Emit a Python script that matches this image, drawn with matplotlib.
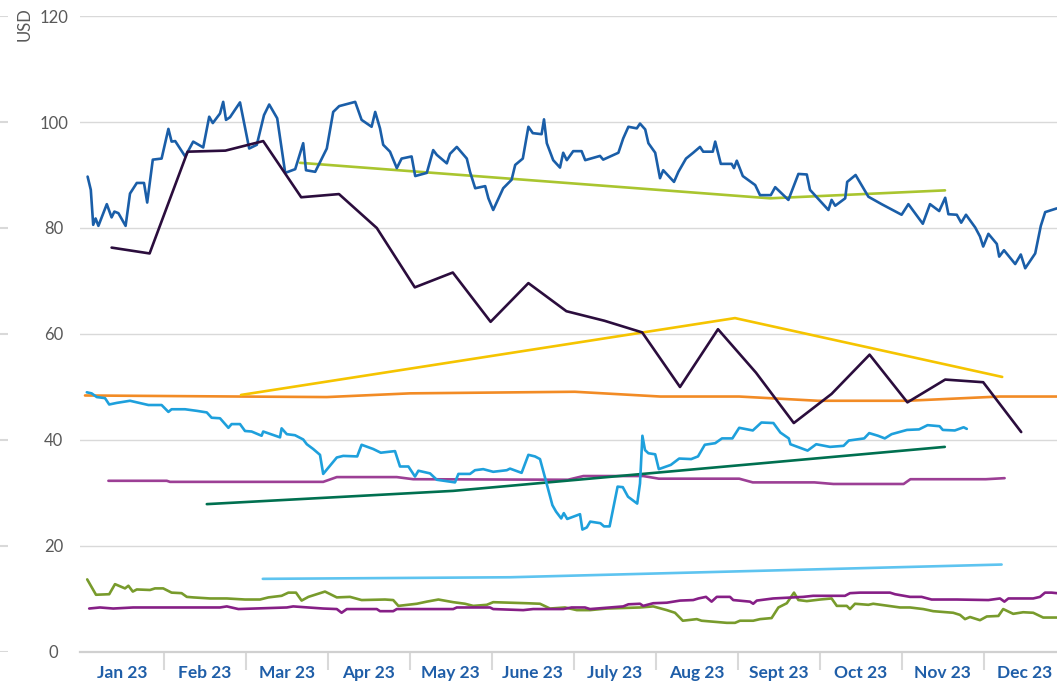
import matplotlib.pyplot as plt
import numpy as np

plt.rcParams['font.family'] = ['Lato', 'DejaVu Sans']

# x = trading day index (about 20.5 days per month), y = price in USD
months = ['Jan 23', 'Feb 23', 'Mar 23', 'Apr 23', 'May 23', 'June 23',
          'July 23', 'Aug 23', 'Sept 23', 'Oct 23', 'Nov 23', 'Dec 23']
month_len = 20.5
first_day = 0.9

dark_blue = [
    (2.4, 89.7), (3.2, 87.2), (3.8, 80.6), (4.4, 81.8), (5.1, 80.4), (7.2, 84.5), (8.4, 82.0),
    (9.1, 83.1), (10.1, 82.8), (11.9, 80.4), (13.0, 86.5), (14.7, 88.5), (16.5, 88.5), (17.3, 84.8),
    (18.7, 92.9), (20.9, 93.1), (22.6, 98.7), (23.4, 96.3), (24.3, 96.4), (26.8, 93.5), (28.8, 96.3),
    (31.3, 95.2), (32.8, 101.0), (33.7, 99.8), (35.5, 101.6), (36.3, 103.8), (37.0, 100.4),
    (38.0, 100.9), (40.5, 103.7), (42.8, 95.0), (44.7, 95.7), (46.5, 101.3), (47.8, 103.3),
    (49.8, 100.7), (51.8, 90.4), (54.3, 91.1), (56.3, 96.0), (57.0, 90.9), (59.3, 90.6), (62.2, 95.0),
    (63.8, 101.9), (65.3, 103.0), (69.3, 103.8), (70.9, 100.4), (73.4, 99.1), (74.3, 101.9),
    (75.5, 98.8), (76.3, 95.7), (78.0, 94.4), (79.7, 91.3), (80.9, 93.1), (83.4, 93.5), (84.3, 89.8),
    (87.2, 90.4), (88.8, 94.7), (89.7, 93.8), (92.2, 92.2), (93.0, 94.0), (94.7, 95.3), (97.2, 93.1),
    (98.0, 90.6), (99.3, 87.5), (101.8, 87.9), (102.6, 85.6), (103.8, 83.4), (106.3, 87.5),
    (108.4, 89.1), (109.3, 91.9), (111.2, 93.1), (112.6, 99.1), (113.7, 97.9), (115.9, 97.7),
    (116.5, 100.5), (117.2, 96.0), (118.8, 92.8), (120.5, 91.4), (121.3, 94.2), (122.2, 92.8),
    (123.8, 94.5), (125.9, 94.5), (126.8, 92.8), (130.5, 93.6), (131.3, 92.9), (135.1, 94.2),
    (136.3, 96.9), (137.6, 99.1), (139.7, 98.8), (140.5, 99.7), (141.8, 98.6), (142.6, 96.0),
    (144.3, 94.2), (145.5, 89.4), (146.3, 90.9), (149.0, 88.7), (150.1, 90.6), (152.0, 93.1),
    (153.8, 94.2), (155.5, 95.3), (156.3, 94.4), (158.7, 94.4), (159.3, 96.3), (160.7, 92.1),
    (163.4, 92.1), (164.0, 91.3), (164.7, 92.7), (166.2, 89.8), (169.3, 88.1), (170.5, 86.2),
    (173.2, 86.2), (174.3, 87.7), (177.6, 85.3), (180.1, 90.2), (182.2, 90.1), (183.0, 87.2),
    (187.6, 83.4), (188.4, 85.3), (189.3, 84.2), (191.8, 85.6), (192.3, 88.7), (194.4, 90.0),
    (197.6, 85.9), (200.9, 84.5), (205.9, 82.5), (207.6, 84.5), (211.2, 80.8), (213.0, 84.5),
    (215.3, 83.2), (216.8, 85.7), (217.6, 82.6), (219.7, 82.5), (220.8, 81.0), (222.0, 82.5),
    (224.3, 80.1), (225.5, 78.4), (226.3, 76.5), (227.6, 78.9), (229.7, 77.0), (230.3, 74.6),
    (231.5, 75.8), (234.3, 73.2), (235.7, 75.0), (236.8, 72.4), (239.3, 75.2), (240.7, 80.4),
    (241.8, 83.0), (244.7, 83.7)]

light_blue = [
    (2.2, 49.0), (3.4, 48.8), (4.7, 48.1), (6.75, 47.9), (7.8, 46.7), (9.7, 47.0), (13.0, 47.4),
    (17.6, 46.6), (20.9, 46.6), (22.6, 45.3), (23.4, 45.8), (26.75, 45.8), (29.7, 45.5), (32.2, 45.2),
    (33.4, 44.2), (35.5, 44.1), (37.6, 42.3), (38.4, 43.0), (40.5, 43.0), (41.75, 41.7), (43.4, 41.6),
    (45.9, 40.8), (46.3, 41.6), (50.5, 40.5), (50.9, 42.2), (52.2, 41.1), (54.25, 40.9), (56.3, 40.1),
    (57.2, 39.2), (58.8, 38.3), (60.5, 37.2), (61.3, 33.6), (64.7, 36.7), (66.3, 37.0), (69.8, 36.9),
    (70.9, 39.1), (73.8, 38.3), (75.7, 37.6), (78.0, 37.8), (79.25, 37.9), (80.5, 35.0), (82.6, 35.0),
    (84.25, 33.1), (85.1, 34.2), (88.0, 33.7), (89.7, 32.5), (94.25, 32.0), (95.1, 33.6), (98.0, 33.6),
    (99.25, 34.3), (101.3, 34.5), (103.8, 34.0), (107.2, 34.3), (108.0, 34.6), (110.9, 33.8),
    (112.6, 37.2), (114.25, 36.9), (115.5, 36.4), (116.9, 32.5), (118.6, 27.7), (119.5, 26.5),
    (120.8, 25.2), (121.45, 26.2), (122.3, 25.1), (125.5, 26.0), (126.1, 23.1), (127.2, 23.5),
    (128.05, 24.6), (130.6, 24.3), (131.5, 23.7), (132.9, 23.7), (134.9, 31.2), (136.2, 31.1),
    (137.5, 29.3), (139.8, 28.0), (140.5, 31.8), (141.1, 40.8), (141.75, 38.1), (142.6, 37.5),
    (144.3, 37.3), (145.2, 34.5), (148.2, 35.3), (150.3, 36.5), (153.3, 36.4), (155.0, 36.9),
    (156.7, 39.1), (159.3, 39.4), (161.0, 40.3), (163.6, 40.3), (165.3, 42.3), (168.7, 41.8),
    (170.85, 43.3), (173.85, 43.2), (175.6, 41.4), (177.7, 40.3), (178.1, 39.2), (182.4, 38.0),
    (184.55, 39.2), (188.0, 38.7), (191.4, 38.9), (192.7, 39.9), (196.55, 40.3), (197.8, 41.3),
    (200.0, 40.8), (201.7, 40.3), (203.4, 41.1), (207.25, 41.9), (210.25, 42.0), (212.4, 42.8),
    (215.4, 42.6), (216.2, 41.9), (219.2, 41.8), (221.4, 42.4), (222.2, 42.1)]

olive = [
    (2.3, 13.7), (4.5, 10.8), (7.8, 10.9), (9.25, 12.8), (11.75, 12.0), (12.6, 12.5), (13.7, 11.4),
    (14.7, 11.8), (18.0, 11.7), (19.25, 12.0), (21.3, 12.0), (23.4, 11.2), (25.9, 11.1), (27.2, 10.4),
    (28.8, 10.3), (33.0, 10.1), (37.2, 10.1), (41.75, 9.9), (45.5, 9.9), (47.6, 10.3), (50.9, 10.6),
    (52.6, 11.2), (54.5, 11.2), (55.9, 9.7), (57.6, 10.4), (61.75, 11.4), (64.7, 10.3), (68.0, 10.4),
    (70.9, 9.8), (76.75, 9.9), (78.8, 9.8), (80.1, 8.7), (84.7, 9.1), (87.2, 9.5), (90.1, 9.9),
    (93.8, 9.4), (96.75, 9.1), (98.8, 8.7), (102.2, 8.9), (103.8, 9.4), (112.2, 9.2), (115.5, 9.1),
    (118.0, 8.2), (121.75, 8.4), (124.7, 7.9), (128.0, 7.9), (132.2, 8.2), (140.5, 8.4),
    (143.8, 8.6), (147.2, 7.9), (149.25, 7.4), (151.2, 5.9), (154.7, 6.2), (155.9, 5.9),
    (162.2, 5.5), (164.25, 5.5), (165.5, 5.9), (168.8, 5.9), (170.5, 6.2), (173.4, 6.4),
    (175.1, 8.4), (177.2, 9.2), (179.0, 11.2), (180.1, 9.8), (182.2, 9.6), (185.5, 9.9),
    (188.4, 10.1), (189.7, 8.7), (192.2, 8.7), (193.0, 8.1), (194.25, 9.1), (197.6, 8.9),
    (198.8, 9.1), (205.5, 8.4), (208.0, 8.4), (211.3, 8.1), (212.6, 7.9), (213.8, 7.7),
    (218.8, 7.4), (220.5, 7.0), (221.75, 6.2), (223.0, 6.6), (225.5, 6.0), (227.2, 6.7),
    (230.1, 6.8), (231.3, 8.1), (233.8, 7.2), (236.3, 7.5), (238.8, 7.4), (241.3, 6.5), (244.7, 6.5)]

purple = [
    (2.8, 8.2), (5.5, 8.4), (8.8, 8.2), (13.8, 8.4), (35.5, 8.4), (37.2, 8.6), (40.1, 8.1),
    (52.2, 8.4), (53.8, 8.6), (61.3, 8.2), (64.7, 8.1), (65.9, 7.4), (67.2, 8.1), (74.7, 8.1),
    (75.5, 7.7), (78.8, 7.7), (79.7, 8.1), (93.8, 8.1), (94.7, 8.4), (98.0, 8.4), (103.0, 8.4),
    (103.8, 8.1), (111.3, 7.9), (113.8, 8.1), (121.3, 8.1), (123.4, 8.4), (126.75, 8.4),
    (128.0, 8.1), (136.3, 8.6), (137.6, 9.0), (140.5, 9.1), (141.3, 8.7), (143.8, 9.2),
    (147.2, 9.3), (150.5, 9.7), (153.8, 9.8), (155.1, 10.1), (157.0, 10.4), (158.4, 9.5),
    (159.7, 10.4), (163.0, 10.4), (163.8, 9.8), (168.0, 9.5), (168.8, 9.1), (169.7, 9.7),
    (173.8, 10.1), (181.3, 10.4), (183.8, 10.6), (191.75, 10.6), (193.0, 11.1), (195.5, 11.2),
    (203.0, 11.2), (204.25, 10.9), (208.0, 10.4), (210.9, 10.4), (213.4, 9.9), (219.7, 9.9),
    (227.6, 9.8), (230.5, 10.1), (231.6, 9.5), (232.6, 10.1), (238.8, 10.1), (240.5, 10.4),
    (241.75, 11.2), (243.4, 11.2), (244.7, 11.1)]

eggplant = [
    (8.4, 76.3), (17.9, 75.2), (27.4, 94.4), (36.85, 94.6), (46.3, 96.4), (55.8, 85.8),
    (65.25, 86.4), (74.7, 80.0), (84.2, 68.8), (93.7, 71.6), (103.15, 62.3), (112.6, 69.6),
    (122.1, 64.3), (131.6, 62.5), (141.05, 60.3), (150.5, 50.0), (160.0, 60.9), (169.5, 52.7),
    (178.95, 43.2), (188.4, 48.7), (197.9, 56.1), (207.35, 47.1), (216.8, 51.4), (226.3, 50.9),
    (235.8, 41.5)]

lime = [(55.5, 92.3), (173.0, 85.6), (216.75, 87.1)]
gold = [(40.75, 48.5), (164.25, 63.0), (231.05, 51.9)]
orange = [(1.75, 48.4), (40.5, 48.2), (62.2, 48.1), (83.0, 48.8), (124.2, 49.1), (145.6, 48.2),
          (165.3, 48.2), (185.0, 47.4), (207.25, 47.4), (230.4, 48.2), (244.75, 48.2)]
magenta = [(7.6, 32.3), (22.2, 32.3), (23.0, 32.1), (61.3, 32.1), (64.7, 33.0), (79.7, 33.0),
           (83.8, 32.6), (122.5, 32.5), (126.35, 33.2), (141.3, 33.2), (145.2, 32.7), (165.3, 32.7),
           (168.7, 32.0), (184.1, 32.0), (188.85, 31.7), (206.4, 31.7), (208.1, 32.6),
           (226.95, 32.6), (231.65, 32.8)]
dark_green = [(32.2, 27.9), (93.8, 30.4), (216.7, 38.7)]
sky = [(46.2, 13.8), (108.0, 14.1), (230.9, 16.5)]

series = [
    (magenta, '#9c3f95'),
    (orange, '#f28b25'),
    (dark_green, '#007050'),
    (sky, '#5ec4f0'),
    (gold, '#f5c400'),
    (lime, '#a9c52f'),
    (olive, '#789b2c'),
    (purple, '#861f86'),
    (light_blue, '#1ea0dc'),
    (dark_blue, '#1a5ea8'),
    (eggplant, '#2b0d3d'),
]

fig = plt.figure(figsize=(10.57, 6.81), dpi=100)
ax = fig.add_axes([80 / 1057, 0.0426, 977 / 1057, 0.9339])

for data, color in series:
    x, y = zip(*data)
    ax.plot(x, y, color=color, lw=1.9, solid_joinstyle='round', solid_capstyle='round')

ax.set_ylim(0, 120)
ax.set_xlim(0.5, 244.75)
ax.set_yticks(np.arange(0, 121, 20))
ax.yaxis.grid(True, color='#d9d9d9', lw=1.0)
ax.set_axisbelow(True)
ax.tick_params(axis='y', length=0, pad=19, labelsize=12, labelcolor='#595959')
for lbl in ax.get_yticklabels():
    lbl.set_horizontalalignment('center')

edges = first_day + month_len * np.arange(1, 12)
centers = first_day + month_len * (np.arange(12) + 0.5)
ax.set_xticks(edges)
ax.set_xticklabels([])
ax.set_xticks(centers, minor=True)
ax.set_xticklabels(months, minor=True, fontsize=12.5, fontweight='bold', color='#1f5ea8')
ax.tick_params(axis='x', which='major', length=13, width=1.5, color='#d9d9d9')
ax.tick_params(axis='x', which='minor', length=0, pad=9.5)

for s in ['top', 'right', 'left']:
    ax.spines[s].set_visible(False)
ax.spines['bottom'].set_color('#d0d0d0')
ax.spines['bottom'].set_linewidth(1.6)

ax.set_ylabel('USD', loc='top', fontsize=12, color='#595959')
ax.yaxis.set_label_coords(-0.048, 1.013)

# grid stubs of the neighbouring chart at the left edge
ax_edge = fig.add_axes([0, 0.0426, 8 / 1057, 0.9339])
ax_edge.set_ylim(0, 120)
for v in np.arange(0, 121, 20):
    ax_edge.axhline(v, color='#d9d9d9', lw=1.5)
ax_edge.axis('off')

fig.savefig('out.png', dpi=100)
